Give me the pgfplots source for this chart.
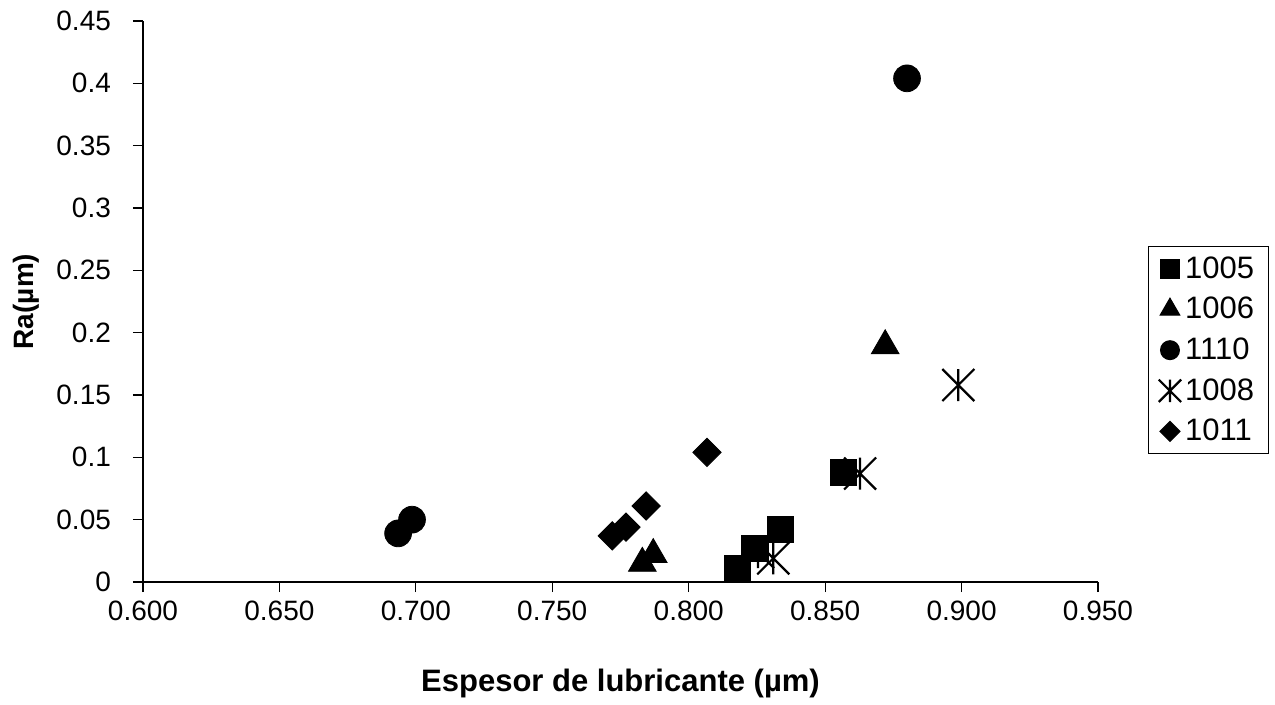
\documentclass[border=0pt]{standalone}
\usepackage{pgfplots}
\pgfplotsset{compat=1.18}
\usepackage{fontspec}
\setmainfont{Liberation Sans}
\pgfdeclareplotmark{xstar}{%
  \pgfpathmoveto{\pgfqpoint{-\pgfplotmarksize}{-\pgfplotmarksize}}%
  \pgfpathlineto{\pgfqpoint{\pgfplotmarksize}{\pgfplotmarksize}}%
  \pgfpathmoveto{\pgfqpoint{-\pgfplotmarksize}{\pgfplotmarksize}}%
  \pgfpathlineto{\pgfqpoint{\pgfplotmarksize}{-\pgfplotmarksize}}%
  \pgfpathmoveto{\pgfqpoint{0pt}{-\pgfplotmarksize}}%
  \pgfpathlineto{\pgfqpoint{0pt}{\pgfplotmarksize}}%
  \pgfusepathqstroke}
\begin{document}
\begin{tikzpicture}
\begin{axis}[
  scale only axis,
  width=477.5pt, height=280.5pt,
  xmin=0.6, xmax=0.95, ymin=0, ymax=0.45,
  axis lines=left,
  axis line style={-, line width=0.6pt, black},
  xtick={0.6,0.65,...,0.951},
  ytick={0,0.05,...,0.451},
  tick align=outside,
  major tick length=5pt,
  tick style={line width=0.6pt, black},
  xticklabel style={/pgf/number format/fixed, /pgf/number format/fixed zerofill, /pgf/number format/precision=3, yshift=-1pt},
  yticklabel style={/pgf/number format/fixed, /pgf/number format/precision=2, xshift=-7.5pt},
  /pgf/number format/assume math mode=true,
  ticklabel style={font=\fontsize{14}{16}\selectfont},
  xlabel={\textbf{Espesor de lubricante (µm)}},
  ylabel={\textbf{Ra(µm)}},
  xlabel style={font=\fontsize{15.5}{18}\selectfont, yshift=-17pt},
  ylabel style={font=\fontsize{14}{16}\selectfont, yshift=1.5pt},
  legend style={at={(1.0525,0.599)}, anchor=north west, draw=black, line width=0.6pt,
    font=\fontsize{15.5}{18}\selectfont, row sep=4pt, inner xsep=5pt, inner ysep=3pt,
    /tikz/every even column/.append style={column sep=1.5pt}},
  legend image post style={scale=0.7},
  legend cell align=left,
  clip=false,
]
\addplot[only marks, mark=square*, mark size=6.6pt, black] coordinates {
  (0.8178,0.011) (0.8243,0.027) (0.8335,0.042) (0.8566,0.088)
};
\addlegendentry{1005}
\addplot[only marks, mark=triangle*, mark size=8pt, black] coordinates {
  (0.783,0.015) (0.787,0.022) (0.872,0.1895)
};
\addlegendentry{1006}
\addplot[only marks, mark=*, mark size=6.7pt, black] coordinates {
  (0.6935,0.039) (0.6986,0.050) (0.880,0.404)
};
\addlegendentry{1110}
\addplot[only marks, mark=xstar, mark size=8pt, black, mark options={line width=1.1pt}] coordinates {
  (0.8254,0.024) (0.831,0.019) (0.8628,0.087) (0.8988,0.158)
};
\addlegendentry{1008}
\addplot[only marks, mark=square*, mark size=5pt, black, mark options={rotate=45}] coordinates {
  (0.772,0.037) (0.777,0.044) (0.7844,0.061) (0.8067,0.104)
};
\addlegendentry{1011}
\path (rel axis cs:-0.1497,-0.2103) rectangle (rel axis cs:1.1853,1.0374);
\end{axis}
\end{tikzpicture}
\end{document}
